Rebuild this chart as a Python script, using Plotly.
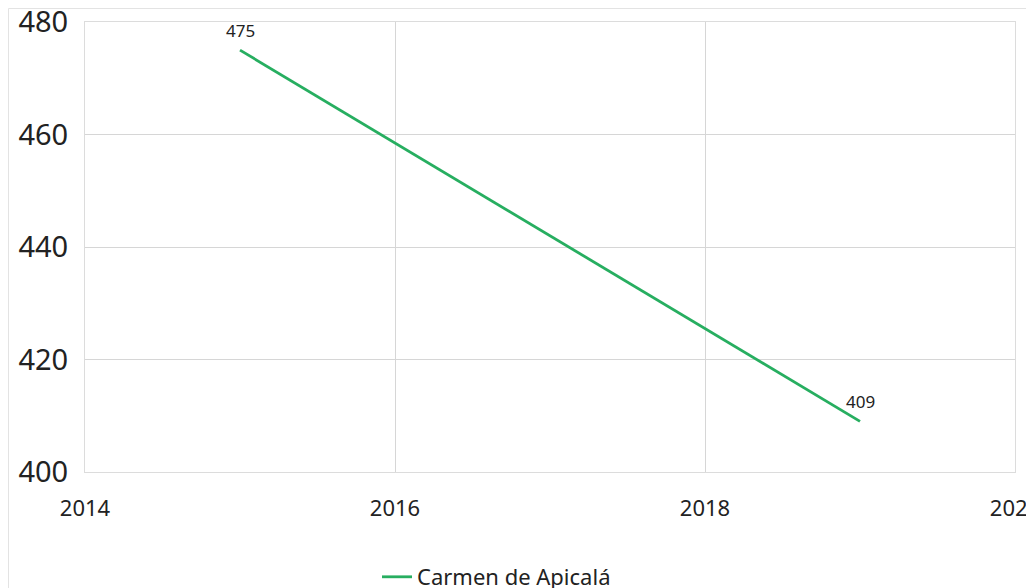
import plotly.graph_objects as go

years = [2015, 2019]
values = [475, 409]
series_name = "Carmen de Apicalá"
x_ticks = [2014, 2016, 2018, 2020]
y_ticks = [400, 420, 440, 460, 480]

fig = go.Figure()
fig.add_trace(go.Scatter(
    x=years, y=values, mode="lines", name=series_name,
    line=dict(color="#27ae60", width=2.8),
    cliponaxis=False,
))

for xv, yv in zip(years, values):
    fig.add_annotation(x=xv, y=yv, text=str(yv), showarrow=False,
                       yshift=20, font=dict(size=17, color="#222"))

OFF = 8  # page body margin
W, H = 1034, 588
# desired page pixel positions of plot area
pl, pr, pt, pb = 85, 1015, 22, 472
L = pl - OFF
T = pt - OFF
R = W - (pr - OFF)
B = H - (pb - OFF)
pw, ph = W - L - R, H - T - B

def px_x(p):
    return (p - OFF - L) / pw

def px_y(p):
    return (H - B - (p - OFF)) / ph

fig.add_shape(type="rect", xref="paper", yref="paper",
              x0=px_x(OFF + 0.5), x1=px_x(1100), y0=px_y(700), y1=px_y(OFF + 0.5),
              line=dict(color="#e3e3e3", width=1), fillcolor="rgba(0,0,0,0)", layer="below")

fig.update_layout(
    width=W, height=H,
    margin=dict(l=L, r=R, t=T, b=B, autoexpand=False),
    paper_bgcolor="white", plot_bgcolor="white",
    font=dict(family="Noto Sans, Open Sans, sans-serif", color="#222"),
    showlegend=True,
    legend=dict(orientation="h", x=px_x(377), xanchor="left", y=px_y(577), yanchor="middle",
                font=dict(size=22, color="#222"), bgcolor="rgba(0,0,0,0)"),
    xaxis=dict(range=[2014, 2020], tickvals=x_ticks, ticktext=[str(t) for t in x_ticks],
               showgrid=True, gridcolor="#d6d6d6", gridwidth=1, automargin=False,
               ticklabeloverflow="allow",
               showline=True, linecolor="#dcdcdc", mirror=True, zeroline=False,
               tickfont=dict(size=22, color="#222"), ticks="outside", ticklen=17,
               tickcolor="rgba(0,0,0,0)"),
    yaxis=dict(range=[400, 480], tickvals=y_ticks, ticktext=[str(t) for t in y_ticks],
               showgrid=True, gridcolor="#d6d6d6", gridwidth=1, automargin=False,
               ticklabeloverflow="allow",
               showline=True, linecolor="#dcdcdc", mirror=True, zeroline=False,
               tickfont=dict(size=29, color="#222"), ticks="outside", ticklen=10,
               tickcolor="rgba(0,0,0,0)"),
)

fig.write_html("out.html")
